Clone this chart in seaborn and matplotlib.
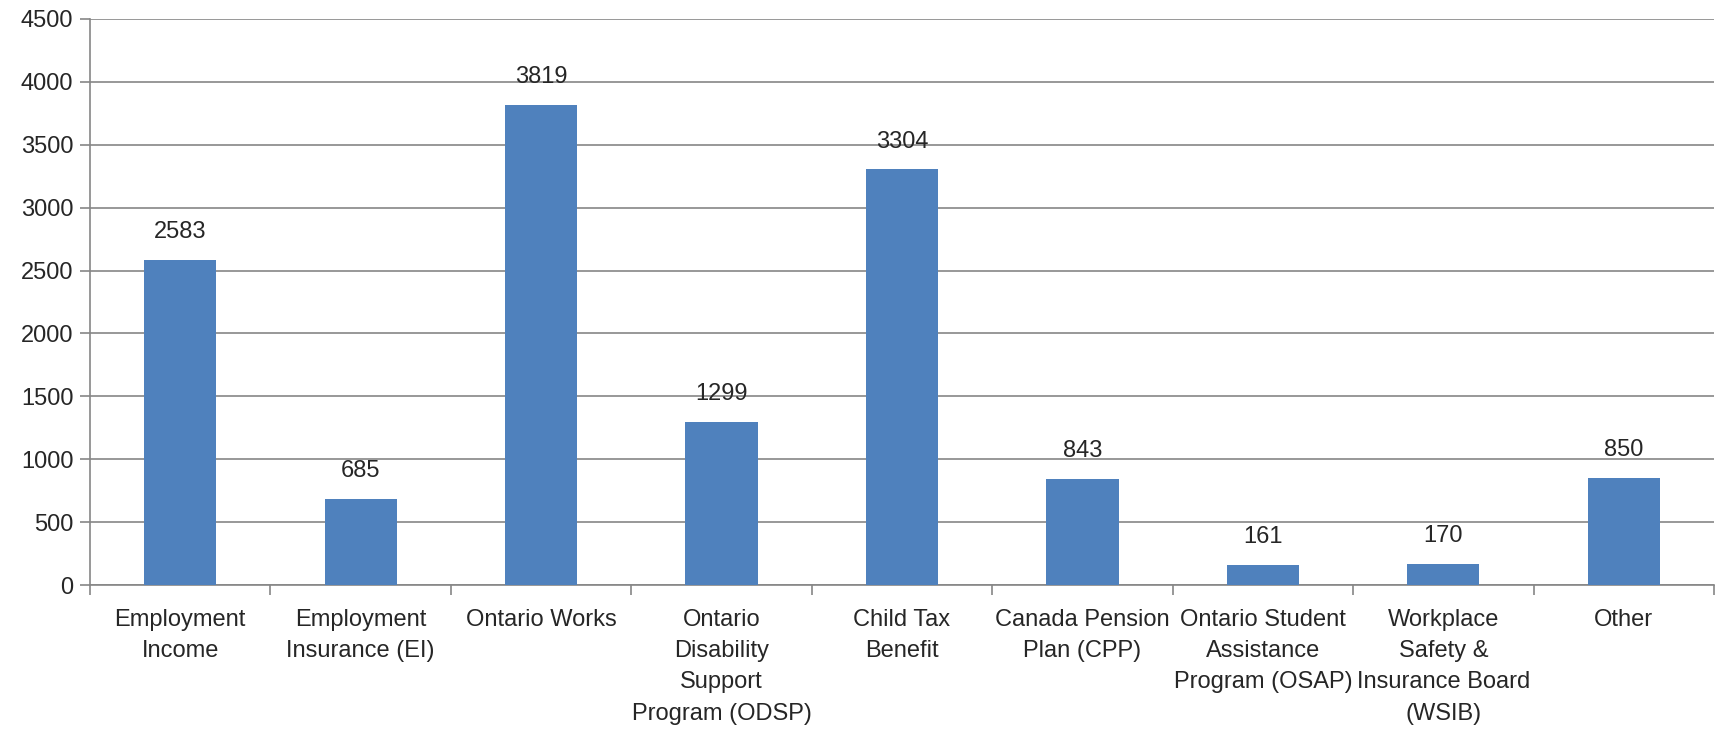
import seaborn as sns
import pandas as pd
import numpy as np
import matplotlib.pyplot as plt

# categorias y valores
categorias = ["Employment\nIncome", "Employment\nInsurance (EI)", "Ontario Works",
              "Ontario\nDisability\nSupport\nProgram (ODSP)", "Child Tax\nBenefit",
              "Canada Pension\nPlan (CPP)", "Ontario Student\nAssistance\nProgram (OSAP)",
              "Workplace\nSafety &\nInsurance Board\n(WSIB)", "Other"]
valores = [2583, 685, 3819, 1299, 3304, 843, 161, 170, 850]
yticks = [0, 500, 1000, 1500, 2000, 2500, 3000, 3500, 4000, 4500]

sns.set_style("white")
plt.rcParams['font.family'] = ['Liberation Sans', 'DejaVu Sans']

datos = pd.DataFrame({'categoria': categorias, 'valor': valores})

fig = plt.figure(figsize=(17.17, 7.30), dpi=100)
ax = fig.add_axes([90/1717, 1-585/730, (1714-90)/1717, (585-19)/730])

sns.barplot(data=datos, x='categoria', y='valor', color='#4F81BD', width=0.4,
            saturation=1, ax=ax, zorder=3, linewidth=0)

gris = '#868686'
ax.set_ylim(0, 4500)
ax.set_xlim(-0.5, len(categorias) - 0.5)
ax.set_yticks(yticks)
ax.yaxis.grid(True, color=gris, linewidth=1.2, zorder=0)
ax.set_axisbelow(True)
for lado in ['top', 'right']:
    ax.spines[lado].set_visible(False)
for lado in ['left', 'bottom']:
    ax.spines[lado].set_color(gris)
    ax.spines[lado].set_linewidth(1.2)

# marcas del eje x entre categorias (estilo Excel)
ax.set_xticks(np.arange(-0.5, len(categorias), 1.0), minor=True)
ax.tick_params(axis='x', which='minor', length=7, color=gris, width=1.2, bottom=True)
ax.tick_params(axis='x', which='major', length=0, pad=17, labelsize=17)
ax.tick_params(axis='y', which='major', length=7, color=gris, width=1.2, left=True,
               labelsize=17, pad=5)
for t in ax.get_xticklabels():
    t.set_linespacing(1.55)

for i, v in enumerate(valores):
    ax.annotate(str(v), (i, v), xytext=(0, 12), textcoords='offset points',
                ha='center', va='bottom', fontsize=17)

ax.set_xlabel('')
ax.set_ylabel('')
plt.savefig('out.png', dpi=100)
